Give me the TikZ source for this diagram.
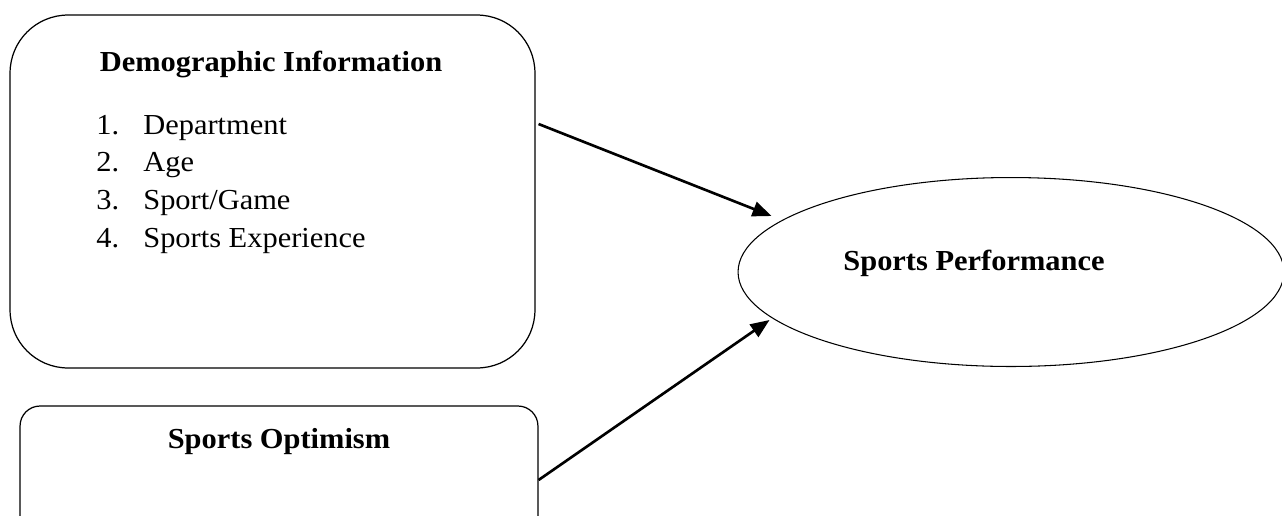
\documentclass[tikz,border=0pt]{standalone}
\usepackage{fontspec}
\setmainfont{Liberation Serif}[FakeStretch=1.05]
\usetikzlibrary{arrows.meta,shapes.geometric}
\begin{document}
\begin{tikzpicture}
[x=0.02cm, y=-0.02cm,
 box/.style={draw, line width=.7pt, inner sep=0pt},
 head/.style={font=\fontsize{16.5}{20}\selectfont\bfseries, inner sep=0pt, anchor=base},
 txt/.style={font=\fontsize{16.5}{20}\selectfont, inner sep=0pt, anchor=base west},
 arr/.style={line width=1.5pt, -{Triangle[length=0.38cm,width=0.3cm]}}]
\useasboundingbox (0,0) rectangle (1282,515);
\clip (0,0) rectangle (1282,515);
\node[box, rounded corners=1.16cm, minimum width=10.5cm, minimum height=7.06cm] (demo) at (272.5,191.5) {};
\node[head] (demohead) at (271,71) {Demographic Information};
\foreach \i/\t in {1/Department, 2/Age, 3/{Sport/Game}, 4/Sports Experience}
{
\node[txt] (num\i) at (96,{96.3+37.7*\i}) {\i.};
\node[txt] (item\i) at (143,{96.3+37.7*\i}) {\t};
}
\node[box, rounded corners=0.4cm, minimum width=10.36cm, minimum height=3.1cm] (optim) at (279,483.5) {};
\node[head] (optimhead) at (279,448) {Sports Optimism};
\node[draw, ellipse, line width=.6pt, inner sep=0pt, minimum width=10.92cm, minimum height=3.78cm] (perf) at (1011,272) {};
\node[head] (perfhead) at (974,270) {Sports Performance};
\draw[arr] ([shift={(3,-67.5)}]demo.east) -- ([shift={(34,-56)}]perf.west);
\draw[arr] ([yshift=-0.02cm*(-3.5)]optim.east) -- ([shift={(32,48)}]perf.west);
\end{tikzpicture}
\end{document}
